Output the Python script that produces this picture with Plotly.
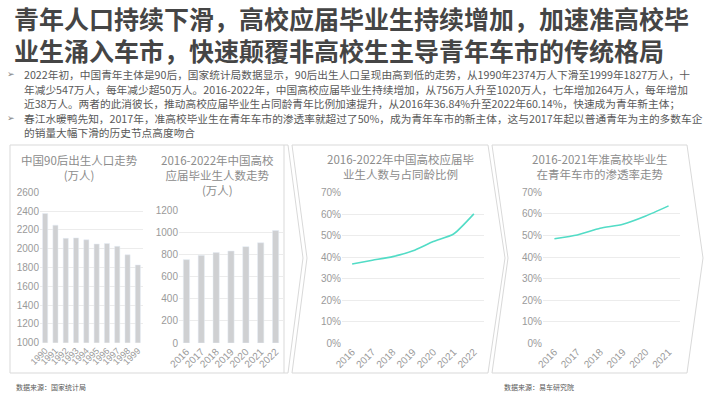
import plotly.graph_objects as go

W, H = 710, 399

# ---------------- data ----------------
birth_years = ["1990", "1991", "1992", "1993", "1994", "1995", "1996", "1997", "1998", "1999"]
birth_pop = [2374, 2250, 2110, 2115, 2095, 2050, 2055, 2025, 1935, 1827]

grad_years = ["2016", "2017", "2018", "2019", "2020", "2021", "2022"]
grad_count = [756, 795, 820, 834, 874, 909, 1020]

ratio_years = ["2016", "2017", "2018", "2019", "2020", "2021", "2022"]
grad_ratio = [36.84, 38.6, 40.3, 43.0, 47.3, 50.8, 60.14]

pen_years = ["2016", "2017", "2018", "2019", "2020", "2021"]
pen_rate = [48.5, 50.2, 53.3, 55.2, 59.0, 63.7]

title_lines = ["青年人口持续下滑，高校应届毕业生持续增加，加速准高校毕",
               "业生涌入车市，快速颠覆非高校生主导青年车市的传统格局"]
body_lines = [
    ("➢", "2022年初，中国青年主体是90后，国家统计局数据显示，90后出生人口呈现由高到低的走势，从1990年2374万人下滑至1999年1827万人，十"),
    ("", "年减少547万人，每年减少超50万人。2016-2022年，中国高校应届毕业生持续增加，从756万人升至1020万人，七年增加264万人，每年增加"),
    ("", "近38万人。两者的此消彼长，推动高校应届毕业生占同龄青年比例加速提升，从2016年36.84%升至2022年60.14%，快速成为青年新主体；"),
    ("➢", "春江水暖鸭先知，2017年，准高校毕业生在青年车市的渗透率就超过了50%，成为青年车市的新主体，这与2017年起以普通青年为主的多数车企"),
    ("", "的销量大幅下滑的历史节点高度吻合"),
]
chart_titles = [
    "中国90后出生人口走势<br>(万人)",
    "2016-2022年中国高校<br>应届毕业生人数走势<br>(万人)",
    "2016-2022年中国高校应届毕<br>业生人数与占同龄比例",
    "2016-2021年准高校毕业生<br>在青年车市的渗透率走势",
]
sources = ["数据来源：国家统计局", "数据来源：易车研究院"]

# ---------------- helpers ----------------
CJK = "Noto Sans CJK SC"
GRID = "#ececec"
TICK = "#9a9a9a"
BAR = "#cfd0d2"
LINE = "#52dcc6"
BORDER = "#d9d9d9"


def xd(a, b):
    return [a / W, b / W]


def yd(top, bottom):
    return [(H - bottom) / H, (H - top) / H]


fig = go.Figure()

fig.add_trace(go.Bar(x=birth_years, y=birth_pop, marker_color=BAR, width=0.5,
                     xaxis="x", yaxis="y", hoverinfo="skip"))
fig.add_trace(go.Bar(x=grad_years, y=grad_count, marker_color=BAR, width=0.42,
                     xaxis="x2", yaxis="y2", hoverinfo="skip"))
fig.add_trace(go.Scatter(x=ratio_years, y=grad_ratio, mode="lines",
                         line=dict(color=LINE, width=1.6, shape="spline", smoothing=0.6),
                         xaxis="x3", yaxis="y3", hoverinfo="skip"))
fig.add_trace(go.Scatter(x=pen_years, y=pen_rate, mode="lines",
                         line=dict(color=LINE, width=1.6, shape="spline", smoothing=0.6),
                         xaxis="x4", yaxis="y4", hoverinfo="skip"))

xcommon = dict(type="category", showgrid=False, zeroline=False, showline=False,
               tickangle=-45, tickfont=dict(family="Liberation Sans", size=10, color=TICK),
               ticks="", fixedrange=True, automargin=False)
ycommon = dict(showgrid=True, gridcolor=GRID, gridwidth=1, zeroline=False, showline=False,
               tickfont=dict(family="Liberation Sans", size=10, color=TICK), ticks="",
               fixedrange=True, automargin=False)

layout = dict(
    width=W, height=H, margin=dict(l=0, r=0, t=0, b=0, autoexpand=False),
    paper_bgcolor="white", plot_bgcolor="rgba(0,0,0,0)", showlegend=False,
    xaxis=dict(xcommon, domain=xd(40, 143), anchor="y", range=[-0.5, 9.5],
               tickmode="array", tickvals=birth_years, ticktext=birth_years,
               tickfont=dict(family="Liberation Sans", size=9, color=TICK)),
    yaxis=dict(ycommon, domain=yd(192.3, 342.7), anchor="x", range=[1000, 2600], dtick=200),
    xaxis2=dict(xcommon, domain=xd(179, 283), anchor="y2", range=[-0.5, 6.5],
                tickmode="array", tickvals=grad_years, ticktext=grad_years),
    yaxis2=dict(ycommon, domain=yd(210.7, 343), anchor="x2", range=[0, 1200], dtick=200),
    xaxis3=dict(xcommon, domain=xd(342, 484), anchor="y3", range=[-0.5, 6.5],
                tickmode="array", tickvals=ratio_years, ticktext=ratio_years),
    yaxis3=dict(ycommon, domain=yd(192.7, 343.3), anchor="x3", range=[0, 70], dtick=10,
                ticksuffix="%"),
    xaxis4=dict(xcommon, domain=xd(543, 680), anchor="y4", range=[-0.5, 5.5],
                tickmode="array", tickvals=pen_years, ticktext=pen_years),
    yaxis4=dict(ycommon, domain=yd(192.3, 343.3), anchor="x4", range=[0, 70], dtick=10,
                ticksuffix="%"),
)
fig.update_layout(**layout)

ann = []
# main title
for i, t in enumerate(title_lines):
    ann.append(dict(x=12 / W, y=(H - (17.5 + i * 33)) / H, xref="paper", yref="paper",
                    xanchor="left", yanchor="middle", showarrow=False, text="<b>" + t + "</b>",
                    font=dict(family=CJK, size=25, color="#454545")))
# body text
for i, (b, t) in enumerate(body_lines):
    yy = 74.5 + i * 14.5
    if b:
        ann.append(dict(x=5 / W, y=(H - yy) / H, xref="paper", yref="paper",
                        xanchor="left", yanchor="middle", showarrow=False, text=b,
                        font=dict(family="DejaVu Sans", size=9, color="#7f7f7f")))
    ann.append(dict(x=22 / W, y=(H - yy) / H, xref="paper", yref="paper",
                    xanchor="left", yanchor="middle", showarrow=False, text=t,
                    font=dict(family=CJK, size=10.7, color="#595959")))
# chart titles
ctpos = [(79, 167.5), (217, 175), (400, 166), (600, 166)]
for (cx, cy), t in zip(ctpos, chart_titles):
    ann.append(dict(x=cx / W, y=(H - cy) / H, xref="paper", yref="paper",
                    xanchor="center", yanchor="middle", showarrow=False, text=t,
                    font=dict(family=CJK, size=11.5, color="#8c8c8c")))
# sources
for sx, s in zip([14, 502], sources):
    ann.append(dict(x=sx / W, y=(H - 387) / H, xref="paper", yref="paper",
                    xanchor="left", yanchor="middle", showarrow=False, text=s,
                    font=dict(family=CJK, size=7, color="#595959")))
fig.update_layout(annotations=ann)


def path(pts):
    return "M " + " L ".join(f"{x},{y}" for x, y in pts) + " Z"


def to_paper(pts):
    return [(x / W, (H - y) / H) for x, y in pts]


T, B, M = 145, 373, 258
panels = [
    [(10, T), (288, T), (303, M), (288, B), (10, B)],
    [(292, T), (488, T), (505, M), (488, B), (292, B), (307, M)],
    [(492, T), (687, T), (703, M), (687, B), (492, B), (508, M)],
]
shapes = []
for p in panels:
    shapes.append(dict(type="path", xref="paper", yref="paper", path=path(to_paper(p)),
                       line=dict(color=BORDER, width=1), fillcolor="rgba(0,0,0,0)", layer="below"))
shapes.append(dict(type="line", xref="paper", yref="paper", x0=284 / W, x1=284 / W,
                   y0=(H - T) / H, y1=(H - B) / H, line=dict(color=BORDER, width=1), layer="below"))
fig.update_layout(shapes=shapes)

fig.write_html("out.html", config={"displayModeBar": False, "staticPlot": True},
               post_script="document.body.style.margin='0';document.body.style.overflow='hidden';")
